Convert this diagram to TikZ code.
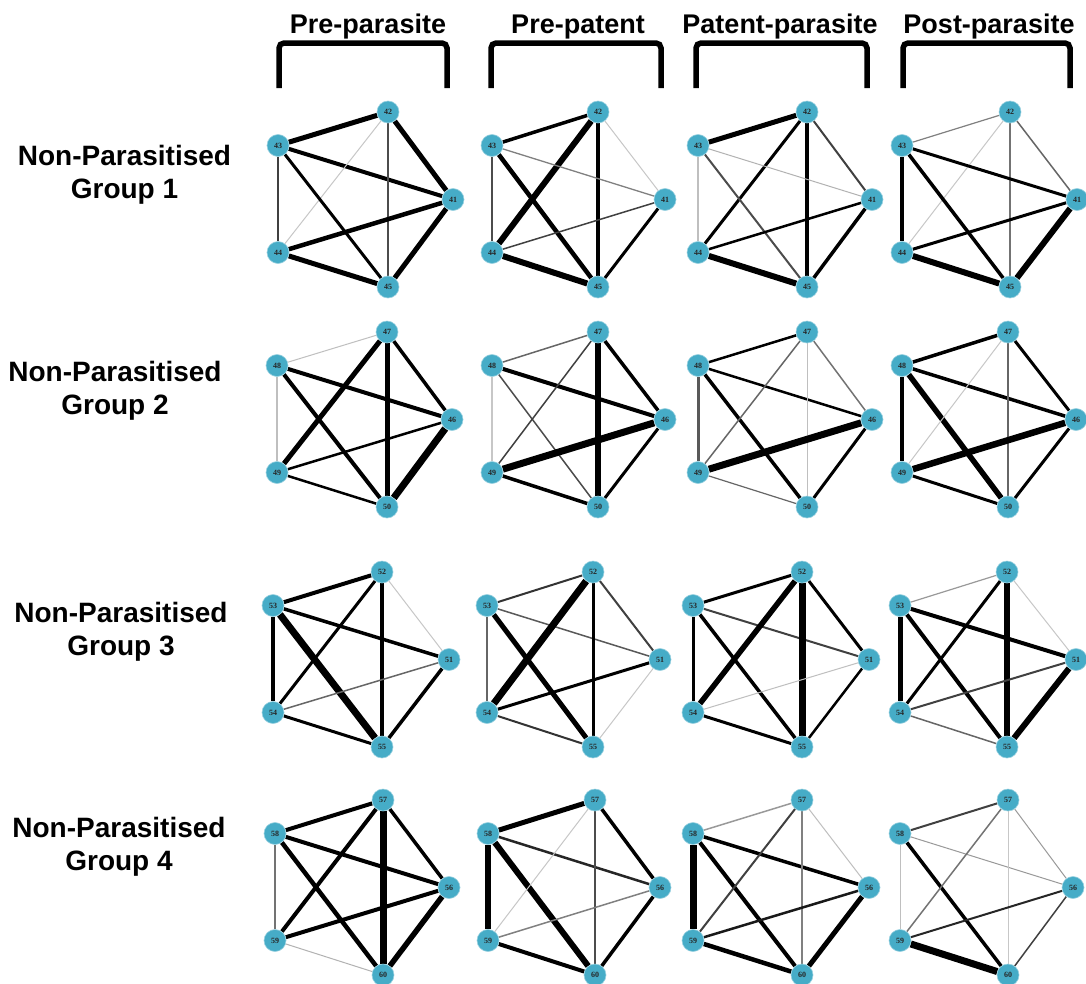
\documentclass[tikz,border=0pt]{standalone}
\usepackage{fontspec}
\newfontfamily\labelfont{Liberation Sans}
\newfontfamily\numfont{Liberation Serif}
\usetikzlibrary{backgrounds}
\definecolor{nodeblue}{RGB}{70,172,199}
\tikzset{
  netnode/.style={circle, fill=nodeblue, draw=nodeblue!55!white, line width=0.6pt,
    minimum size=22pt, inner sep=0pt, text=black!85,
    font=\numfont\bfseries\fontsize{8}{8}\selectfont},
  heading/.style={font=\labelfont\bfseries\fontsize{27}{30}\selectfont, anchor=base},
  grouplabel/.style={font=\labelfont\bfseries\fontsize{28}{33}\selectfont, anchor=base},
  bracket/.style={line width=5.5pt, rounded corners=5pt},
}
% #1 panel id, #2 left x, #3 top x, #4 right x, #5 centre y, #6 first label,
% #7 edge list  a/b/width/grey  (R = right, T = top, U = upper left, L = lower left, B = bottom)
\newcommand\netpanel[7]{%
  \pgfmathtruncatemacro\labR{#6}%
  \pgfmathtruncatemacro\labT{#6+1}%
  \pgfmathtruncatemacro\labU{#6+2}%
  \pgfmathtruncatemacro\labL{#6+3}%
  \pgfmathtruncatemacro\labB{#6+4}%
  \node[netnode] (#1R) at (#4,#5) {\labR};
  \node[netnode] (#1T) at (#3,#5-87.5) {\labT};
  \node[netnode] (#1U) at (#2,#5-54) {\labU};
  \node[netnode] (#1L) at (#2,#5+53) {\labL};
  \node[netnode] (#1B) at (#3,#5+87.5) {\labB};
  \begin{pgfonlayer}{background}
    \foreach \a/\b/\w/\g in {#7} {\draw[line width=\w pt, draw=black!\g] (#1\a) -- (#1\b);}
  \end{pgfonlayer}
}
\begin{document}
\begin{tikzpicture}[x=1pt,y=-1pt]
\begin{pgfonlayer}{background}
  \fill[white] (0,0) rectangle (1086,983);
\end{pgfonlayer}
\useasboundingbox (0,0) rectangle (1086,983);

% column headings and brackets
\node[heading] (h1) at (368,33) {Pre-parasite};
\node[heading] (h2) at (578,33) {Pre-patent};
\node[heading] (h3) at (780,33) {Patent-parasite};
\node[heading] (h4) at (989,33) {Post-parasite};
\draw[bracket] (279,88) -- (279,43) -- (447,43) -- (447,88);
\draw[bracket] (491,88) -- (491,43) -- (661,43) -- (661,88);
\draw[bracket] (696,88) -- (696,43) -- (867,43) -- (867,88);
\draw[bracket] (903,88) -- (903,43) -- (1070,43) -- (1070,88);

% row labels
\node[grouplabel] (g1a) at (124.5,165) {Non-Parasitised};
\node[grouplabel] (g1b) at (124.5,198) {Group 1};
\node[grouplabel] (g2a) at (115,381) {Non-Parasitised};
\node[grouplabel] (g2b) at (115,414) {Group 2};
\node[grouplabel] (g3a) at (121,622) {Non-Parasitised};
\node[grouplabel] (g3b) at (121,655) {Group 3};
\node[grouplabel] (g4a) at (119,837) {Non-Parasitised};
\node[grouplabel] (g4b) at (119,870) {Group 4};

% group 1
\netpanel{pa}{278}{388}{453}{199.5}{41}{U/T/5/100, T/R/5/100, U/R/4/100, T/L/1/22, T/B/2/70, U/L/2.5/75, U/B/3/100, L/R/4.5/100, L/B/5/100, B/R/5/100}
\netpanel{pb}{492}{598}{665}{199.5}{41}{U/T/3.5/100, T/L/6/100, T/B/3.5/100, T/R/1/22, U/R/1.3/50, U/L/2/70, U/B/4.5/100, L/R/1.5/75, L/B/6/100, B/R/3/100}
\netpanel{pc}{698}{807}{872}{199.5}{41}{U/T/5/100, T/L/3/100, T/B/4/100, T/R/2/75, U/R/1/30, U/L/2/25, U/B/2/70, L/R/2.5/100, L/B/6/100, B/R/3.5/100}
\netpanel{pd}{902}{1010}{1077}{199.5}{41}{U/T/1.2/50, T/L/1/22, T/B/2/55, T/R/1.5/60, U/R/3/100, U/L/3.5/100, U/B/3.5/100, L/R/3/100, L/B/6/100, B/R/6/100}

% group 2
\netpanel{qa}{277}{387}{452}{419.5}{46}{U/T/1/25, U/L/1.5/25, U/R/4/100, U/B/4/100, T/L/5/100, T/B/5/100, T/R/3.5/100, L/R/2.5/100, L/B/2.5/100, B/R/7/100}
\netpanel{qb}{492}{598}{665}{419.5}{46}{U/T/1.5/60, U/L/1.5/22, U/R/4/100, U/B/1.5/70, T/L/1.5/75, T/B/5.5/100, T/R/3.5/100, L/R/7/100, L/B/3.5/100, B/R/3/100}
\netpanel{qc}{698}{807}{872}{419.5}{46}{U/T/2.5/100, U/L/3/65, U/R/2.5/100, U/B/3.5/100, T/L/1.5/60, T/B/1/25, T/R/1.5/55, L/R/7/100, L/B/1.2/60, B/R/3/100}
\netpanel{qd}{902}{1008}{1076}{419.5}{46}{U/T/3.5/100, U/L/4/100, U/R/3.5/100, U/B/5.5/100, T/L/1/22, T/B/2/60, T/R/3/100, L/R/6.5/100, L/B/3/100, B/R/3/100}

% group 3
\netpanel{ra}{273}{382}{449}{659.5}{51}{U/T/4/100, U/L/4/100, U/R/3.5/100, U/B/7/100, T/L/3/100, T/B/4/100, T/R/1/22, L/R/1.5/60, L/B/3/100, B/R/3.5/100}
\netpanel{rb}{487}{593}{660}{659.5}{51}{U/T/2/80, U/L/2/60, U/R/1.5/65, U/B/5/100, T/L/7/100, T/B/3/100, T/R/2/75, L/R/3/100, L/B/2/80, B/R/1/22}
\netpanel{rc}{693}{802}{869}{659.5}{51}{U/T/3/100, U/L/3/100, U/R/2/75, U/B/3.5/100, T/L/5.5/100, T/B/7/100, T/R/3/100, L/R/1/25, L/B/3/100, B/R/2.5/100}
\netpanel{rd}{900}{1007}{1076}{659.5}{51}{U/T/1.2/40, U/L/5/100, U/R/4/100, U/B/4/100, T/L/3/100, T/B/6/100, T/R/1/22, L/R/2/75, L/B/1.5/60, B/R/6/100}

% group 4
\netpanel{sa}{275}{383}{449}{887.5}{56}{U/T/4/100, U/L/2/55, U/R/4/100, U/B/4.5/100, T/L/4/100, T/B/7/100, T/R/3.5/100, L/R/4/100, L/B/1/30, B/R/5.5/100}
\netpanel{sb}{488}{595}{660}{887.5}{56}{U/T/5/100, U/L/6.5/100, U/R/2.5/85, U/B/6/100, T/L/1/22, T/B/2/70, T/R/3.5/100, L/R/1.5/50, L/B/4/100, B/R/3.5/100}
\netpanel{sc}{693}{802}{869}{887.5}{56}{U/T/1.5/40, U/L/7/100, U/R/3.5/100, U/B/4/100, T/L/2/75, T/B/2/50, T/R/1/25, L/R/2.5/90, L/B/4.5/100, B/R/5/100}
\netpanel{sd}{900}{1008}{1073}{887.5}{56}{U/T/2/75, U/L/1/25, U/R/1/40, U/B/3.5/100, T/L/1.5/55, T/B/1/22, T/R/1/40, L/R/2/85, L/B/7/100, B/R/1.5/75}
\end{tikzpicture}
\end{document}
